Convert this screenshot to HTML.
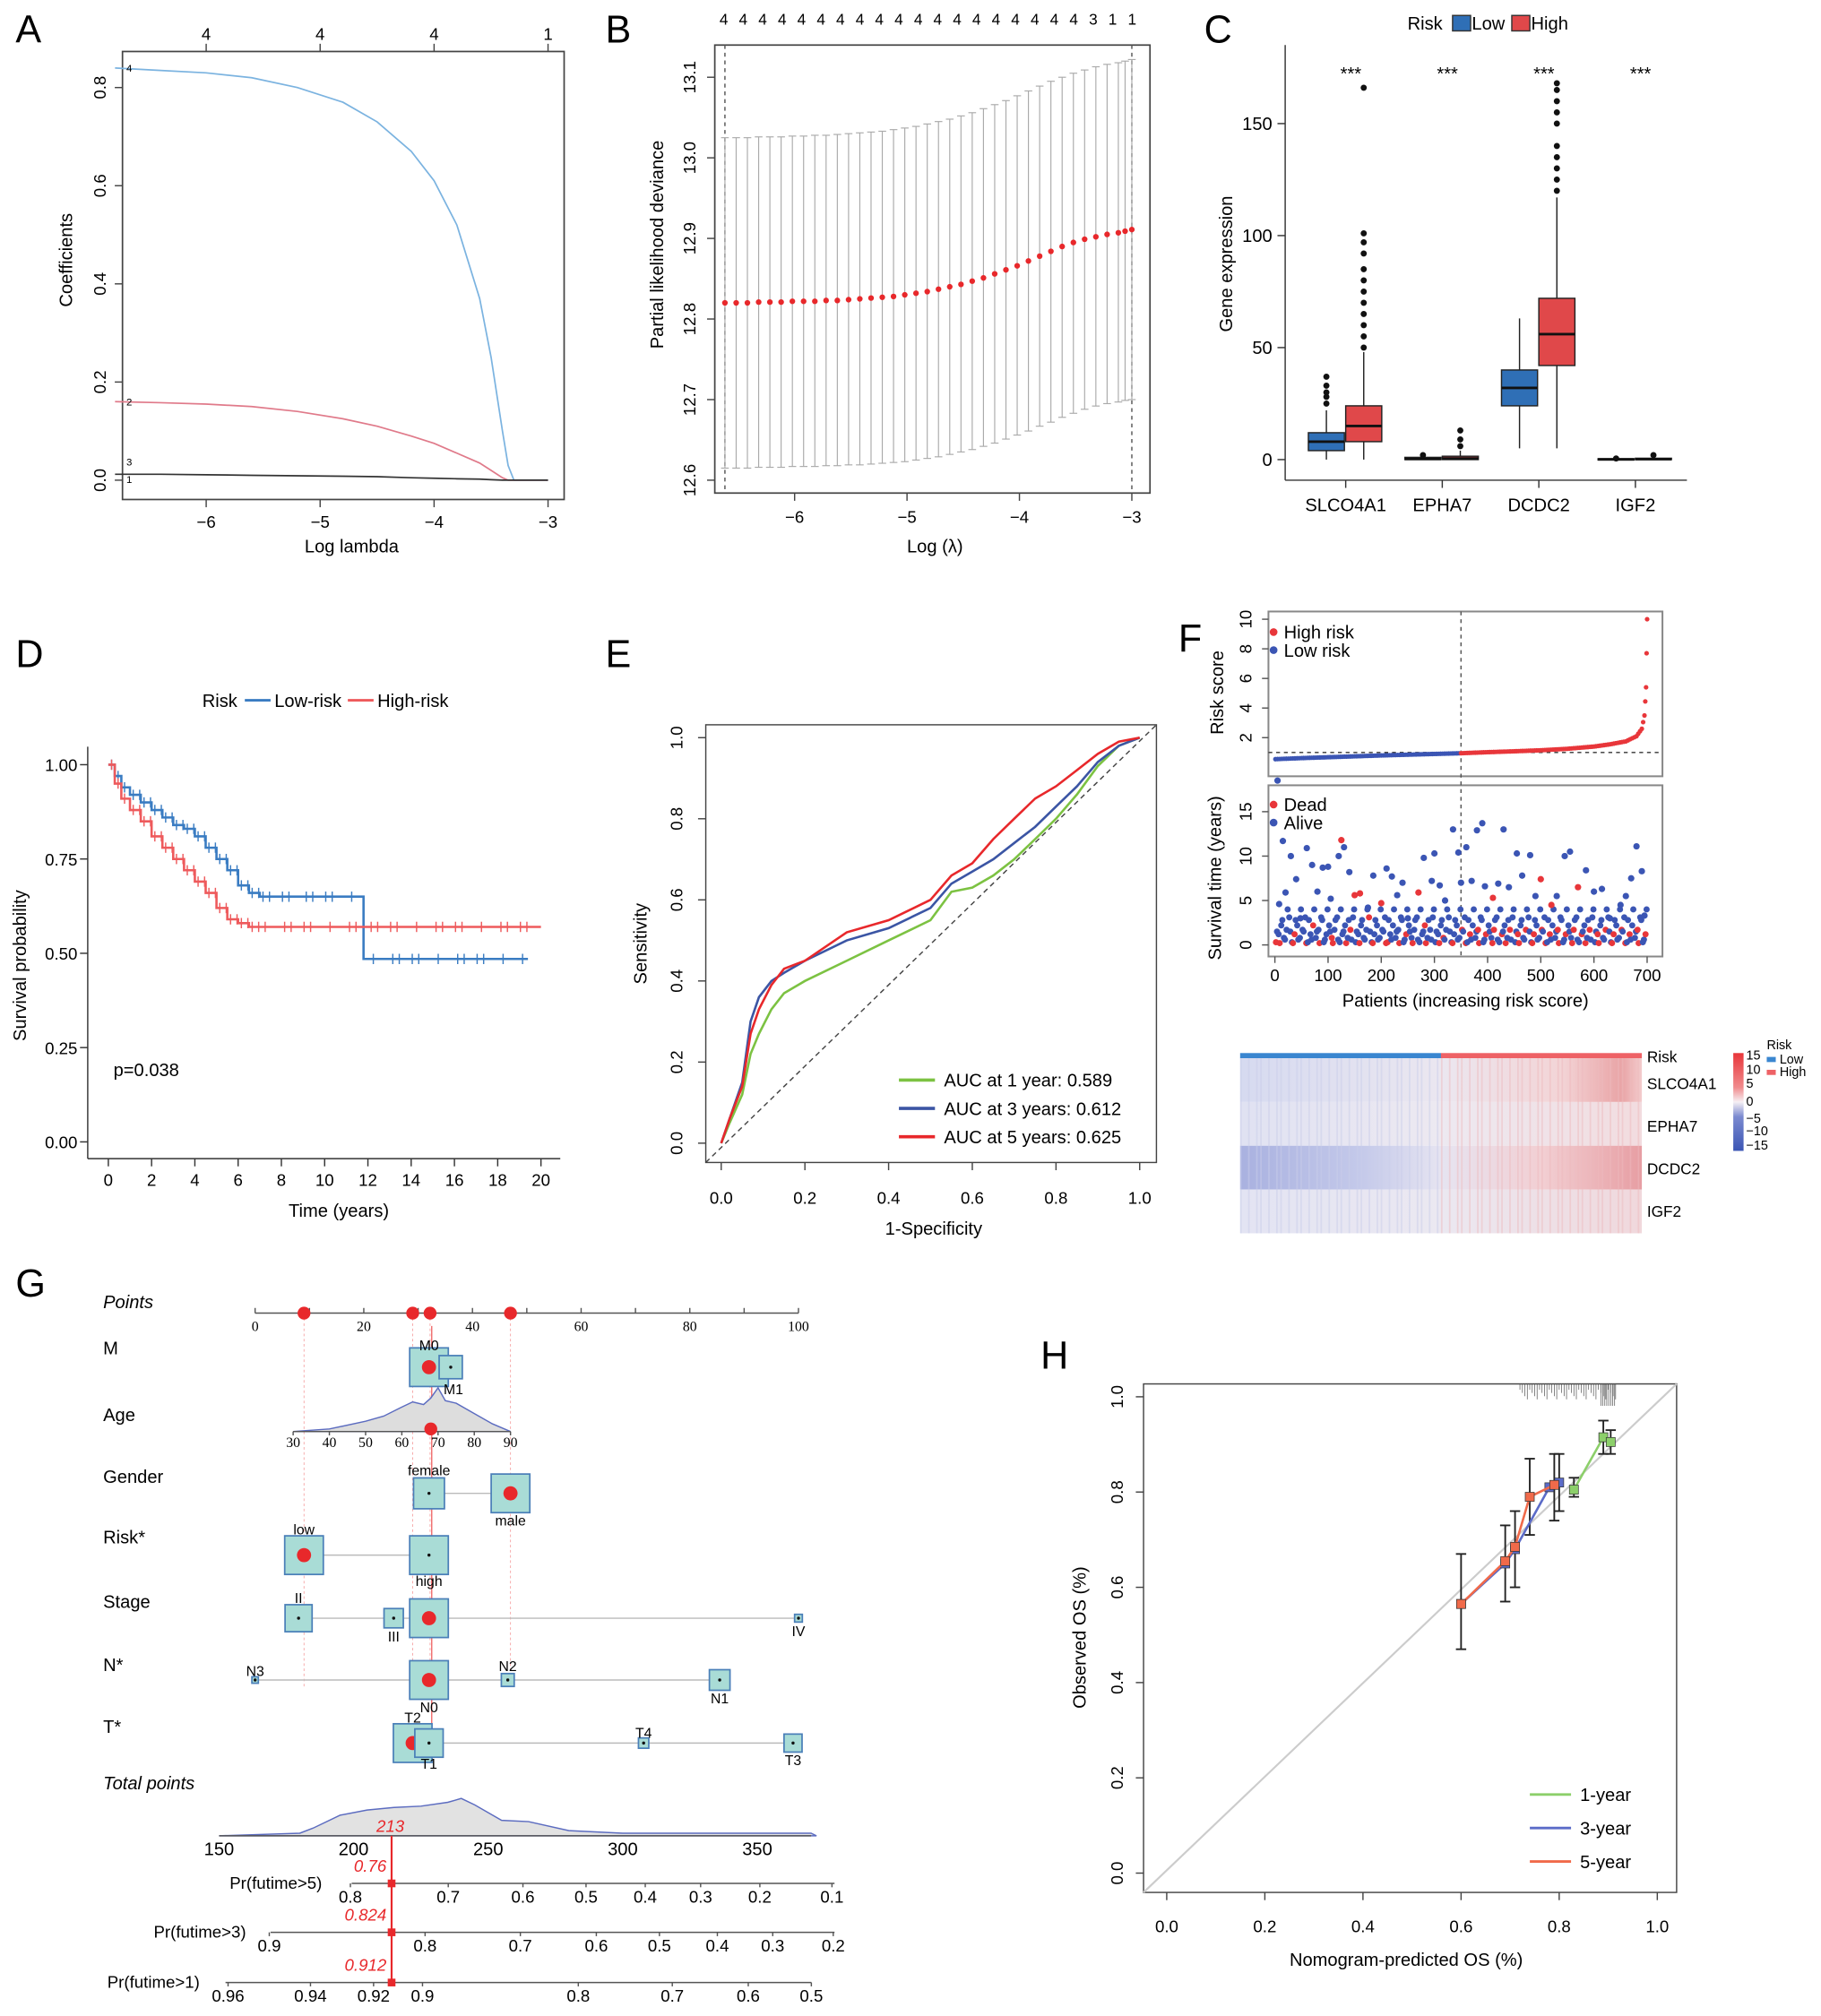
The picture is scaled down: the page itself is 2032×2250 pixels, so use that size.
<!DOCTYPE html>
<html><head><meta charset="utf-8">
<style>
html,body{margin:0;padding:0;background:#fff;}
svg{display:block;font-family:"Liberation Sans",Arial,sans-serif;}
</style></head>
<body>
<svg id="fig" width="2032" height="2250" viewBox="0 0 1414 1566" xmlns="http://www.w3.org/2000/svg">
<g id="static">
<text x="12" y="33" font-size="30">A</text>
<text x="470" y="33" font-size="30">B</text>
<text x="935" y="33" font-size="30">C</text>
<text x="12" y="518" font-size="30">D</text>
<text x="470" y="518" font-size="30">E</text>
<text x="915" y="506" font-size="30">F</text>
<text x="12" y="1007" font-size="30">G</text>
<text x="808" y="1063" font-size="30">H</text>
</g>
</svg>
<script>
// ---------------- DATA ----------------
const aLambda=[-6.8,-6.4,-6.0,-5.6,-5.2,-4.8,-4.5,-4.2,-4.0,-3.8,-3.6,-3.5,-3.4,-3.35,-3.3,-3.0];
const aBlue=[0.84,0.835,0.83,0.82,0.80,0.77,0.73,0.67,0.61,0.52,0.37,0.25,0.10,0.03,0.0,0.0];
const aRed=[0.16,0.158,0.155,0.15,0.14,0.125,0.11,0.09,0.075,0.055,0.035,0.02,0.005,0.0,0.0,0.0];
const aBlack=[0.012,0.012,0.011,0.010,0.009,0.008,0.007,0.005,0.004,0.003,0.002,0.001,0,0,0,0];
const aTopTicks=["4","4","4","1"];
const bLambda=[-6.62,-6.52,-6.42,-6.32,-6.22,-6.12,-6.02,-5.92,-5.82,-5.72,-5.62,-5.52,-5.42,-5.32,-5.22,-5.12,-5.02,-4.92,-4.82,-4.72,-4.62,-4.52,-4.42,-4.32,-4.22,-4.12,-4.02,-3.92,-3.82,-3.72,-3.62,-3.52,-3.42,-3.32,-3.22,-3.12,-3.06,-3.0];
const bMean=[12.820,12.820,12.820,12.821,12.821,12.821,12.822,12.822,12.822,12.823,12.823,12.824,12.825,12.826,12.827,12.828,12.830,12.832,12.834,12.837,12.840,12.843,12.847,12.851,12.856,12.861,12.866,12.872,12.878,12.884,12.890,12.895,12.899,12.902,12.905,12.907,12.909,12.911];
const bUpper=[13.025,13.025,13.025,13.026,13.026,13.026,13.027,13.027,13.028,13.028,13.029,13.030,13.031,13.032,13.033,13.035,13.037,13.039,13.042,13.045,13.048,13.052,13.056,13.061,13.066,13.071,13.077,13.083,13.089,13.095,13.100,13.105,13.109,13.113,13.116,13.118,13.120,13.122];
const bLower=[12.615,12.615,12.615,12.616,12.616,12.616,12.617,12.617,12.617,12.618,12.618,12.619,12.619,12.620,12.621,12.622,12.623,12.625,12.627,12.629,12.632,12.635,12.638,12.642,12.646,12.651,12.656,12.661,12.667,12.672,12.678,12.683,12.688,12.692,12.695,12.697,12.699,12.700];
const bTopTicks=["4","4","4","4","4","4","4","4","4","4","4","4","4","4","4","4","4","4","4","3","1","1"];
const cGenes=["SLCO4A1","EPHA7","DCDC2","IGF2"];
const cLow=[[4,8,12,0,22],[0,0.3,1,0,2],[24,32,40,5,63],[0,0.1,0.4,0,1]];
const cHigh=[[8,15,24,0,48],[0,0.5,1.5,0,4],[42,56,72,5,117],[0,0.2,0.6,0,1.5]];
const cOutLow=[[25,28,30,33,37],[2],[],[0.5]];
const cOutHigh=[[50,55,60,65,70,75,80,85,92,97,101,166],[6,9,13],[120,125,130,135,140,150,155,160,165,168],[2]];
const dLowT=[0,0.3,0.6,1,1.5,2,2.5,3,3.5,4,4.5,5,5.5,6,6.5,7,9,11.8,11.8,19.4];
const dLowS=[1,0.97,0.94,0.92,0.90,0.88,0.86,0.84,0.83,0.81,0.78,0.75,0.72,0.68,0.66,0.65,0.65,0.65,0.485,0.485];
const dHighT=[0,0.3,0.6,1,1.5,2,2.5,3,3.5,4,4.5,5,5.5,6,6.5,8,12,20];
const dHighS=[1,0.95,0.91,0.88,0.85,0.81,0.78,0.75,0.72,0.69,0.66,0.62,0.59,0.58,0.57,0.57,0.57,0.57];
const eFpr=[0,0.02,0.05,0.07,0.09,0.12,0.15,0.2,0.3,0.4,0.5,0.55,0.6,0.65,0.7,0.75,0.8,0.85,0.9,0.95,1];
const e1y=[0,0.05,0.12,0.22,0.27,0.33,0.37,0.40,0.45,0.50,0.55,0.62,0.63,0.66,0.70,0.75,0.80,0.86,0.93,0.98,1];
const e3y=[0,0.06,0.15,0.30,0.36,0.40,0.42,0.45,0.50,0.53,0.58,0.64,0.67,0.70,0.74,0.78,0.83,0.88,0.94,0.98,1];
const e5y=[0,0.06,0.14,0.27,0.33,0.39,0.43,0.45,0.52,0.55,0.60,0.66,0.69,0.75,0.80,0.85,0.88,0.92,0.96,0.99,1];
const eLabels=["AUC at 1 year: 0.589","AUC at 3 years: 0.612","AUC at 5 years: 0.625"];
const fRank=[1,50,100,150,200,250,300,350,400,450,500,550,600,630,660,680,690,695,698,700];
const fScore=[0.55,0.62,0.68,0.74,0.8,0.85,0.9,0.95,1.02,1.08,1.15,1.25,1.4,1.55,1.75,2.1,2.6,3.5,5.4,10];
const fSurvRank=[5,8,15,20,30,40,48,60,70,80,90,100,105,120,125,130,140,150,160,175,185,200,210,220,230,240,250,270,280,295,300,310,320,335,345,350,360,370,380,390,395,410,420,430,440,455,465,480,490,500,520,530,545,555,570,585,600,615,630,650,660,670,680,690,695];
const fSurvTime=[18.5,4.6,11.7,5.9,10,7.4,3,10.9,9,6,8.7,8.8,5.2,10,11.8,11,8.2,5.6,5.8,4.2,7.8,4.7,8.6,7.7,5.6,7,3,5.9,9.8,7.2,10.3,6.7,5,13,10.4,7,11,7.2,12.9,13.7,6.6,5.3,6.9,13,6.5,10.3,7.8,10.1,5.5,7.4,4.5,5.5,10,10.5,6.5,8.4,6,6.3,3,4.5,5.5,7.5,11.1,8.3,3.3];
const fSurvDead=[0,0,0,0,0,0,0,0,0,0,0,0,0,0,1,0,0,1,1,0,0,1,0,0,0,0,0,1,0,0,0,0,0,0,0,0,0,0,0,0,0,1,0,0,0,0,0,0,0,1,1,0,0,0,1,0,0,0,0,0,0,0,0,0,0];
const hPred1=[0.83,0.89,0.905];const hObs1=[0.805,0.915,0.905];
const hPred3=[0.60,0.69,0.71,0.78,0.80];const hObs3=[0.565,0.65,0.68,0.81,0.82];
const hPred5=[0.60,0.69,0.71,0.74,0.79];const hObs5=[0.565,0.655,0.685,0.79,0.815];
const hErrPred=[0.60,0.69,0.71,0.74,0.79,0.80,0.83,0.89,0.905];
const hErrLo=[0.47,0.57,0.60,0.71,0.74,0.76,0.79,0.88,0.88];
const hErrHi=[0.67,0.73,0.76,0.87,0.88,0.88,0.83,0.95,0.93];

const NS="http://www.w3.org/2000/svg";
const svg=document.getElementById('fig');
function mk(tag,attrs,parent){const e=document.createElementNS(NS,tag);for(const k in attrs)e.setAttribute(k,attrs[k]);(parent||svg).appendChild(e);return e;}
function txt(x,y,s,size,attrs,parent){const a=Object.assign({x:x,y:y,'font-size':size},attrs||{});const e=mk('text',a,parent);e.textContent=s;return e;}
function grp(name){const g=mk('g',{});return g;}
function poly(pts){return pts.map(p=>p[0].toFixed(1)+','+p[1].toFixed(1)).join(' ');}

// A
(function(){
const g=grp('panel-a-lasso-paths');
const X=v=>160+(v+6)*88.5, Y=v=>373-v*381.25;
mk('rect',{x:95,y:40,width:343,height:348,fill:'none',stroke:'#444','stroke-width':1.2},g);
[-6,-5,-4,-3].forEach(v=>{mk('line',{x1:X(v),y1:388,x2:X(v),y2:394,stroke:'#444'},g);txt(X(v),410,String(v).replace('-','−'),13,{'text-anchor':'middle'},g);});
[0,0.2,0.4,0.6,0.8].forEach(v=>{mk('line',{x1:89,y1:Y(v),x2:95,y2:Y(v),stroke:'#444'},g);txt(82,Y(v),v.toFixed(1),13,{'text-anchor':'middle',transform:`rotate(-90 82 ${Y(v)})`},g);});
[-6,-5,-4,-3].forEach((v,i)=>{mk('line',{x1:X(v),y1:40,x2:X(v),y2:34,stroke:'#444'},g);txt(X(v),31,aTopTicks[i],13,{'text-anchor':'middle'},g);});
txt(273,429,'Log lambda',14,{'text-anchor':'middle'},g);
txt(56,202,'Coefficients',14,{'text-anchor':'middle',transform:'rotate(-90 56 202)'},g);
[[aBlue,'#7bb3e0','series-a-blue'],[aRed,'#e07a8a','series-a-red'],[aBlack,'#333','series-a-black']].forEach(s=>{
 const l=mk('polyline',{points:poly(aLambda.map((v,i)=>[X(v),Y(s[0][i])])),fill:'none',stroke:s[1],'stroke-width':1.2},g);
 });
txt(98,Y(aBlue[0])+3,'4',8,{},g);txt(98,Y(aRed[0])+3,'2',8,{},g);txt(98,Y(0.03),'3',8,{},g);txt(98,Y(0)+2,'1',8,{},g);
})();

// B
(function(){
const g=grp('panel-b-cv-deviance');
const X=v=>617+(v+6)*87.3, Y=v=>373-(v-12.6)*626;
mk('rect',{x:555,y:35,width:338,height:348,fill:'none',stroke:'#444','stroke-width':1.2},g);
[-6,-5,-4,-3].forEach(v=>{mk('line',{x1:X(v),y1:383,x2:X(v),y2:389,stroke:'#444'},g);txt(X(v),406,String(v).replace('-','−'),13,{'text-anchor':'middle'},g);});
[12.6,12.7,12.8,12.9,13.0,13.1].forEach(v=>{mk('line',{x1:549,y1:Y(v),x2:555,y2:Y(v),stroke:'#444'},g);txt(540,Y(v),v.toFixed(1),13,{'text-anchor':'middle',transform:`rotate(-90 540 ${Y(v)})`},g);});
bTopTicks.forEach((t,i)=>txt(562+i*15.1,19,t,12,{'text-anchor':'middle'},g));
txt(726,429,'Log (λ)',14,{'text-anchor':'middle'},g);
txt(515,190,'Partial likelihood deviance',14,{'text-anchor':'middle',transform:'rotate(-90 515 190)'},g);
mk('line',{x1:X(-6.62),y1:35,x2:X(-6.62),y2:383,stroke:'#555','stroke-dasharray':'3,3'},g);
mk('line',{x1:X(-3),y1:35,x2:X(-3),y2:383,stroke:'#555','stroke-dasharray':'3,3'},g);
bLambda.forEach((v,i)=>{
 const x=X(v);
 mk('line',{x1:x,y1:Y(bUpper[i]),x2:x,y2:Y(bLower[i]),stroke:'#aaa','stroke-width':0.8},g);
 mk('line',{x1:x-3,y1:Y(bUpper[i]),x2:x+3,y2:Y(bUpper[i]),stroke:'#aaa','stroke-width':0.8},g);
 mk('line',{x1:x-3,y1:Y(bLower[i]),x2:x+3,y2:Y(bLower[i]),stroke:'#aaa','stroke-width':0.8},g);
 const c=mk('circle',{cx:x,cy:Y(bMean[i]),r:2.2,fill:'#e8282b'},g);
 
});
})();

// C
(function(){
const g=grp('panel-c-boxplot');
const Y=v=>357-v*1.74;
mk('line',{x1:998,y1:35,x2:998,y2:373,stroke:'#333'},g);
mk('line',{x1:998,y1:373,x2:1310,y2:373,stroke:'#333'},g);
[0,50,100,150].forEach(v=>{mk('line',{x1:992,y1:Y(v),x2:998,y2:Y(v),stroke:'#333'},g);txt(988,Y(v)+5,String(v),14,{'text-anchor':'end'},g);});
txt(957,205,'Gene expression',14,{'text-anchor':'middle',transform:'rotate(-90 957 205)'},g);
txt(1093,23,'Risk',14,{},g);
mk('rect',{x:1128,y:12,width:14,height:12,fill:'#2f6fb6',stroke:'#333'},g);txt(1143,23,'Low',14,{},g);
mk('rect',{x:1174,y:12,width:14,height:12,fill:'#e0484a',stroke:'#333'},g);txt(1189,23,'High',14,{},g);
cGenes.forEach((gn,i)=>{
 const cx=1045+i*75;
 mk('line',{x1:cx,y1:373,x2:cx,y2:379,stroke:'#333'},g);
 txt(cx,397,gn,14,{'text-anchor':'middle'},g);
 txt(cx+4,62,'***',14,{'text-anchor':'middle'},g);
 [[cLow[i],cOutLow[i],cx-15,'#2f6fb6','box-low'],[cHigh[i],cOutHigh[i],cx+14,'#e0484a','box-high']].forEach(b=>{
  const d=b[0],x=b[2];
  mk('line',{x1:x,y1:Y(d[3]),x2:x,y2:Y(d[4]),stroke:'#222'},g);
  const r=mk('rect',{x:x-14,y:Y(d[2]),width:28,height:Math.max(Y(d[0])-Y(d[2]),1),fill:b[3],stroke:'#222'},g);
  
  mk('line',{x1:x-14,y1:Y(d[1]),x2:x+14,y2:Y(d[1]),stroke:'#111','stroke-width':2},g);
  b[1].forEach(o=>mk('circle',{cx:x,cy:Y(o),r:2.4,fill:'#111'},g));
 });
});
})();

// D
(function(){
const g=grp('panel-d-km');
const X=v=>84+v*16.8, Y=v=>887-v*293;
mk('line',{x1:68,y1:580,x2:68,y2:900,stroke:'#333'},g);
mk('line',{x1:68,y1:900,x2:435,y2:900,stroke:'#333'},g);
[0,2,4,6,8,10,12,14,16,18,20].forEach(v=>{mk('line',{x1:X(v),y1:900,x2:X(v),y2:906,stroke:'#333'},g);txt(X(v),921,String(v),13,{'text-anchor':'middle'},g);});
[0,0.25,0.5,0.75,1].forEach(v=>{mk('line',{x1:62,y1:Y(v),x2:68,y2:Y(v),stroke:'#333'},g);txt(60,Y(v)+5,v.toFixed(2),13,{'text-anchor':'end'},g);});
txt(263,945,'Time (years)',14,{'text-anchor':'middle'},g);
txt(20,750,'Survival probability',14,{'text-anchor':'middle',transform:'rotate(-90 20 750)'},g);
txt(88,836,'p=0.038',14,{},g);
txt(157,549,'Risk',14,{},g);
mk('line',{x1:190,y1:544,x2:210,y2:544,stroke:'#3a7cc2','stroke-width':2},g);txt(213,549,'Low-risk',14,{},g);
mk('line',{x1:270,y1:544,x2:290,y2:544,stroke:'#ee5a5c','stroke-width':2},g);txt(293,549,'High-risk',14,{},g);
function km(T,S,col,name){
 let pts=[];for(let i=0;i<T.length;i++){if(i>0)pts.push([X(T[i]),Y(S[i-1])]);pts.push([X(T[i]),Y(S[i])]);}
 const l=mk('polyline',{points:poly(pts),fill:'none',stroke:col,'stroke-width':1.8},g);
 
 for(let i=1;i<T.length;i++){for(let t=T[i-1]+0.15;t<T[i];t+=0.3){if(t>7&&Math.abs(t%1)>0.5)continue;mk('line',{x1:X(t),y1:Y(S[i-1])-4,x2:X(t),y2:Y(S[i-1])+4,stroke:col,'stroke-width':1},g);}}
}
km(dLowT,dLowS,'#3a7cc2','km-low-risk');
km(dHighT,dHighS,'#ee5a5c','km-high-risk');
})();

// E
(function(){
const g=grp('panel-e-roc');
const X=v=>560+v*325, Y=v=>888-v*315;
mk('rect',{x:548,y:563,width:350,height:340,fill:'none',stroke:'#444'},g);
[0,0.2,0.4,0.6,0.8,1].forEach(v=>{mk('line',{x1:X(v),y1:903,x2:X(v),y2:909,stroke:'#444'},g);txt(X(v),935,v.toFixed(1),13,{'text-anchor':'middle'},g);
 mk('line',{x1:542,y1:Y(v),x2:548,y2:Y(v),stroke:'#444'},g);txt(530,Y(v),v.toFixed(1),13,{'text-anchor':'middle',transform:`rotate(-90 530 ${Y(v)})`},g);});
txt(725,959,'1-Specificity',14,{'text-anchor':'middle'},g);
txt(502,733,'Sensitivity',14,{'text-anchor':'middle',transform:'rotate(-90 502 733)'},g);
mk('line',{x1:548,y1:903,x2:898,y2:563,stroke:'#444','stroke-dasharray':'4,3'},g);
[[e1y,'#7cc242','roc-1-year'],[e3y,'#3b55a4','roc-3-years'],[e5y,'#e8282b','roc-5-years']].forEach((s,i)=>{
 const l=mk('polyline',{points:poly(eFpr.map((v,j)=>[X(v),Y(s[0][j])])),fill:'none',stroke:s[1],'stroke-width':1.8},g);
 
 mk('line',{x1:698,y1:839+i*22,x2:726,y2:839+i*22,stroke:s[1],'stroke-width':2.5},g);
 txt(733,844+i*22,eLabels[i],14,{},g);
});
})();

// F
(function(){
const g=grp('panel-f-risk');
const X=v=>990+v*0.413;
const Y1=v=>596-v*11.5, Y2=v=>734-v*6.9;
mk('rect',{x:985,y:475,width:306,height:128,fill:'none',stroke:'#888','stroke-width':1.4},g);
mk('rect',{x:985,y:610,width:306,height:133,fill:'none',stroke:'#888','stroke-width':1.4},g);
[2,4,6,8,10].forEach(v=>{mk('line',{x1:980,y1:Y1(v),x2:985,y2:Y1(v),stroke:'#555'},g);txt(972,Y1(v),String(v),13,{'text-anchor':'middle',transform:`rotate(-90 972 ${Y1(v)})`},g);});
[0,5,10,15].forEach(v=>{mk('line',{x1:980,y1:Y2(v),x2:985,y2:Y2(v),stroke:'#555'},g);txt(972,Y2(v),String(v),13,{'text-anchor':'middle',transform:`rotate(-90 972 ${Y2(v)})`},g);});
[0,100,200,300,400,500,600,700].forEach(v=>{mk('line',{x1:X(v),y1:743,x2:X(v),y2:748,stroke:'#555'},g);txt(X(v),762,String(v),13,{'text-anchor':'middle'},g);});
txt(1138,782,'Patients (increasing risk score)',14,{'text-anchor':'middle'},g);
txt(950,538,'Risk score',14,{'text-anchor':'middle',transform:'rotate(-90 950 538)'},g);
txt(948,682,'Survival time (years)',14,{'text-anchor':'middle',transform:'rotate(-90 948 682)'},g);
mk('line',{x1:985,y1:Y1(1),x2:1291,y2:Y1(1),stroke:'#333','stroke-dasharray':'3,3'},g);
mk('line',{x1:X(350),y1:475,x2:X(350),y2:743,stroke:'#555','stroke-dasharray':'3,3'},g);
for(let k=0;k<fRank.length-1;k++){const n=Math.max(2,Math.round((fRank[k+1]-fRank[k])/4));
 for(let j=0;j<n;j++){const t=j/n;const r=fRank[k]+(fRank[k+1]-fRank[k])*t;const s=fScore[k]+(fScore[k+1]-fScore[k])*t;
  mk('circle',{cx:X(r),cy:Y1(s),r:1.8,fill:r<350?'#3b55b4':'#e8363a'},g);}}
mk('circle',{cx:X(700),cy:Y1(10),r:1.8,fill:'#e8363a'},g);
for(let r=2;r<700;r+=5){const tt=[0.3,1.2,2.2,0.8,1.7,3.1][(r/5|0)%6];
 mk('circle',{cx:X(r),cy:Y2(tt),r:2.4,fill:(r%35===2&&r<350)||(r%15===7&&r>=350)?'#e8363a':'#3b55b4'},g);
 mk('circle',{cx:X(r+2),cy:Y2([1.5,0.2,2.8,0.6,4][(r/5|0)%5]),r:2.4,fill:(r%25===7)?'#e8363a':'#3b55b4'},g);}
fSurvRank.forEach((r,i)=>{const c=mk('circle',{cx:X(r),cy:Y2(fSurvTime[i]),r:2.5,fill:fSurvDead[i]?'#e8363a':'#3b55b4'},g);
 });
mk('circle',{cx:989,cy:491,r:3,fill:'#e8363a'},g);txt(997,496,'High risk',14,{},g);
mk('circle',{cx:989,cy:505,r:3,fill:'#3b55b4'},g);txt(997,510,'Low risk',14,{},g);
mk('circle',{cx:989,cy:625,r:3,fill:'#e8363a'},g);txt(997,630,'Dead',14,{},g);
mk('circle',{cx:989,cy:639,r:3,fill:'#3b55b4'},g);txt(997,644,'Alive',14,{},g);
const defs=mk('defs',{},g);
function grad(id,stops){const lg=mk('linearGradient',{id:id,x1:0,y1:0,x2:1,y2:0},defs);stops.forEach(s=>mk('stop',{offset:s[0],'stop-color':s[1]},lg));}
grad('hg1',[[0,'#d6daf0'],[0.5,'#ebe7f0'],[0.8,'#f3d4d6'],[0.95,'#e9a4a6'],[1,'#f3cccd']]);
grad('hg2',[[0,'#e0e2f2'],[0.5,'#ede9f1'],[1,'#f2dcdf']]);
grad('hg3',[[0,'#a9b1e0'],[0.3,'#c4c9ea'],[0.5,'#e6e4f1'],[0.75,'#f2cfd3'],[1,'#e79ea3']]);
grad('hg4',[[0,'#e3e4f3'],[0.5,'#ebe8f1'],[1,'#f0d8dc']]);
mk('rect',{x:963,y:818,width:156,height:4,fill:'#3a86d0'},g);
mk('rect',{x:1119,y:818,width:156,height:4,fill:'#ee6266'},g);
['hg1','hg2','hg3','hg4'].forEach((id,i)=>{const r=mk('rect',{x:963,y:822+i*34,width:312,height:34,fill:`url(#${id})`},g);
 });
for(let i=0;i<60;i++){const x=963+i*5.2+((i*7)%3);mk('rect',{x:x,y:822,width:1.2,height:136,fill:i<30?'#c9cde9':'#eeb9bd',opacity:0.5},g);}
txt(1279,825,'Risk',12,{},g);
['SLCO4A1','EPHA7','DCDC2','IGF2'].forEach((s,i)=>txt(1279,846+i*33,s,12,{},g));
const cg=mk('linearGradient',{id:'cbar',x1:0,y1:0,x2:0,y2:1},defs);
[[0,'#e8363a'],[0.35,'#f08a8c'],[0.5,'#f6f0f4'],[0.65,'#7b8ad0'],[1,'#3b55b4']].forEach(s=>mk('stop',{offset:s[0],'stop-color':s[1]},cg));
mk('rect',{x:1346,y:818,width:8,height:76,fill:'url(#cbar)'},g);
[['15',823],['10',834],['5',845],['0',859],['−5',872],['−10',882],['−15',893]].forEach(t=>txt(1356,t[1],t[0],10,{},g));
txt(1372,815,'Risk',10,{},g);
mk('rect',{x:1372,y:821,width:7,height:4,fill:'#3a86d0'},g);txt(1382,826,'Low',10,{},g);
mk('rect',{x:1372,y:831,width:7,height:4,fill:'#ee6266'},g);txt(1382,836,'High',10,{},g);
})();

// G
(function(){
const g=grp('panel-g-nomogram');
const P=v=>198+v*4.22;
const lab=(y,s,it)=>txt(80,y,s,14,it?{'font-style':'italic'}:{},g);
lab(1016,'Points',1);lab(1052,'M');lab(1104,'Age');lab(1152,'Gender');lab(1199,'Risk*');lab(1249,'Stage');lab(1298,'N*');lab(1346,'T*');lab(1390,'Total points',1);
mk('line',{x1:P(0),y1:1020,x2:P(100),y2:1020,stroke:'#555'},g);
for(let v=0;v<=100;v+=10){mk('line',{x1:P(v),y1:1020,x2:P(v),y2:1016,stroke:'#555'},g);if(v%20===0)txt(P(v),1034,String(v),11,{'text-anchor':'middle','font-family':'Liberation Serif, serif'},g);}
[9,29,32.2,47].forEach(v=>{mk('line',{x1:P(v),y1:1020,x2:P(v),y2:1310,stroke:'#f5a0a0','stroke-width':0.6,'stroke-dasharray':'2,2'},g);mk('circle',{cx:P(v),cy:1020,r:5,fill:'#e8282b'},g);});
mk('line',{x1:P(32.5),y1:1030,x2:P(32.5),y2:1360,stroke:'#f07070','stroke-width':1},g);
const box=(x,y,s,dot,name)=>{const r=mk('rect',{x:x-s/2,y:y-s/2,width:s,height:s,fill:'#a9dcd6',stroke:'#4a7fb8','stroke-width':1.2},g);
 if(dot)mk('circle',{cx:x,cy:y,r:5.5,fill:'#e8282b'},g);else mk('circle',{cx:x,cy:y,r:1.2,fill:'#111'},g);};
box(P(32),1062,30,1,'box-m0');box(P(36),1062,18,0,'box-m1');txt(P(32),1049,'M0',11,{'text-anchor':'middle'},g);txt(P(36.5),1083,'M1',11,{'text-anchor':'middle'},g);
const A=a=>P(7)+(a-30)*(P(47)-P(7))/60;
mk('path',{d:`M${A(30)},1112 L${A(40)},1110 L${A(50)},1104 L${A(55)},1100 L${A(60)},1093 L${A(63)},1089 L${A(66)},1091 L${A(68)},1086 L${A(70)},1078 L${A(72)},1088 L${A(75)},1090 L${A(80)},1098 L${A(85)},1106 L${A(90)},1112 Z`,fill:'#ddd',stroke:'#5c6cc0'},g);
mk('line',{x1:A(30),y1:1112,x2:A(90),y2:1112,stroke:'#555'},g);
[30,40,50,60,70,80,90].forEach(a=>{mk('line',{x1:A(a),y1:1112,x2:A(a),y2:1115,stroke:'#555'},g);txt(A(a),1124,String(a),11,{'text-anchor':'middle','font-family':'Liberation Serif, serif'},g);});
mk('circle',{cx:A(68),cy:1110,r:5,fill:'#e8282b'},g);
mk('line',{x1:P(32),y1:1160,x2:P(47),y2:1160,stroke:'#bbb'},g);
box(P(32),1160,24,0,'box-female');box(P(47),1160,30,1,'box-male');txt(P(32),1146,'female',11,{'text-anchor':'middle'},g);txt(P(47),1185,'male',11,{'text-anchor':'middle'},g);
mk('line',{x1:P(9),y1:1208,x2:P(32),y2:1208,stroke:'#bbb'},g);
box(P(9),1208,30,1,'box-risk-low');box(P(32),1208,30,0,'box-risk-high');txt(P(9),1192,'low',11,{'text-anchor':'middle'},g);txt(P(32),1232,'high',11,{'text-anchor':'middle'},g);
mk('line',{x1:P(8),y1:1257,x2:P(100),y2:1257,stroke:'#bbb'},g);
box(P(8),1257,21,0,'box-stage-ii');box(P(25.5),1257,15,0,'box-stage-iii');box(P(32),1257,30,1,'box-stage-i');box(P(100),1257,6,0,'box-stage-iv');
txt(P(8),1245,'II',11,{'text-anchor':'middle'},g);txt(P(25.5),1275,'III',11,{'text-anchor':'middle'},g);txt(P(100),1271,'IV',11,{'text-anchor':'middle'},g);
mk('line',{x1:P(0),y1:1305,x2:P(86),y2:1305,stroke:'#bbb'},g);
box(P(0),1305,5,0,'box-n3');box(P(32),1305,30,1,'box-n0');box(P(46.5),1305,10,0,'box-n2');box(P(85.5),1305,16,0,'box-n1');
txt(P(0),1302,'N3',11,{'text-anchor':'middle'},g);txt(P(32),1330,'N0',11,{'text-anchor':'middle'},g);txt(P(46.5),1298,'N2',11,{'text-anchor':'middle'},g);txt(P(85.5),1323,'N1',11,{'text-anchor':'middle'},g);
mk('line',{x1:P(32),y1:1354,x2:P(99),y2:1354,stroke:'#bbb'},g);
box(P(29),1354,30,1,'box-t2');box(P(32),1354,22,0,'box-t1');box(P(71.5),1354,8,0,'box-t4');box(P(99),1354,14,0,'box-t3');
txt(P(29),1338,'T2',11,{'text-anchor':'middle'},g);txt(P(32),1374,'T1',11,{'text-anchor':'middle'},g);txt(P(71.5),1350,'T4',11,{'text-anchor':'middle'},g);txt(P(99),1371,'T3',11,{'text-anchor':'middle'},g);
const T=v=>170+(v-150)*2.09;
mk('path',{d:`M${T(150)},1426 L${T(180)},1424 L${T(185)},1420 L${T(195)},1410 L${T(205)},1406 L${T(215)},1404 L${T(225)},1403 L${T(235)},1400 L${T(240)},1397 L${T(245)},1402 L${T(255)},1414 L${T(265)},1415 L${T(280)},1422 L${T(300)},1424 L${T(370)},1424 L${T(372)},1426 Z`,fill:'#e2e2e2',stroke:'#5c6cc0'},g);
mk('line',{x1:T(150),y1:1426,x2:T(370),y2:1426,stroke:'#555'},g);
[150,200,250,300,350].forEach(v=>txt(T(v),1441,String(v),14,{'text-anchor':'middle'},g));
txt(303,1423,'213',13,{'text-anchor':'middle',fill:'#e8282b','font-style':'italic'},g);
mk('line',{x1:304,y1:1426,x2:304,y2:1540,stroke:'#e8282b','stroke-width':1.5},g);
const axis=(y,x0,x1,ticks,name,val,lx)=>{mk('line',{x1:x0,y1:y,x2:x1,y2:y,stroke:'#555'},g);ticks.forEach(t=>{mk('line',{x1:t[1],y1:y,x2:t[1],y2:y+3,stroke:'#555'},g);txt(t[1],y+15,t[0],13,{'text-anchor':'middle'},g);});
 txt(lx,y+4,name,13,{'text-anchor':'end'},g);txt(300,y-9,val,13,{'text-anchor':'end',fill:'#e8282b','font-style':'italic'},g);mk('rect',{x:301,y:y-3,width:6,height:6,fill:'#e8282b'},g);};
axis(1463,273,648,[['0.8',272],['0.7',348],['0.6',406],['0.5',455],['0.4',501],['0.3',544],['0.2',590],['0.1',646]],'Pr(futime>5)','0.76',250);
axis(1501,210,648,[['0.9',209],['0.8',330],['0.7',404],['0.6',463],['0.5',512],['0.4',557],['0.3',600],['0.2',647]],'Pr(futime>3)','0.824',191);
axis(1540,175,630,[['0.96',177],['0.94',241],['0.92',290],['0.9',328],['0.8',449],['0.7',522],['0.6',581],['0.5',630]],'Pr(futime>1)','0.912',155);
})();

// H
(function(){
const g=grp('panel-h-calibration');
const X=v=>906+v*381, Y=v=>1455-v*370;
mk('rect',{x:888,y:1075,width:414,height:395,fill:'none',stroke:'#444'},g);
[0,0.2,0.4,0.6,0.8,1].forEach(v=>{mk('line',{x1:X(v),y1:1470,x2:X(v),y2:1476,stroke:'#444'},g);txt(X(v),1501,v.toFixed(1),13,{'text-anchor':'middle'},g);
 mk('line',{x1:882,y1:Y(v),x2:888,y2:Y(v),stroke:'#444'},g);txt(872,Y(v),v.toFixed(1),13,{'text-anchor':'middle',transform:`rotate(-90 872 ${Y(v)})`},g);});
txt(1092,1527,'Nomogram-predicted OS (%)',14,{'text-anchor':'middle'},g);
txt(843,1272,'Observed OS (%)',14,{'text-anchor':'middle',transform:'rotate(-90 843 1272)'},g);
mk('line',{x1:888,y1:1470,x2:1302,y2:1075,stroke:'#ccc','stroke-width':1.5},g);
for(let k=0;k<40;k++){const v=0.72+k*0.005;mk('line',{x1:X(v),y1:1075,x2:X(v),y2:1077+(k%4+1)*2.5,stroke:'#555','stroke-width':0.5},g);}
for(let k=0;k<8;k++){const v=0.885+k*0.004;mk('line',{x1:X(v),y1:1075,x2:X(v),y2:1092,stroke:'#555','stroke-width':0.5},g);}
hErrPred.forEach((v,i)=>{const x=X(v);mk('line',{x1:x,y1:Y(hErrLo[i]),x2:x,y2:Y(hErrHi[i]),stroke:'#222','stroke-width':1.3},g);
 mk('line',{x1:x-4,y1:Y(hErrLo[i]),x2:x+4,y2:Y(hErrLo[i]),stroke:'#222','stroke-width':1.3},g);mk('line',{x1:x-4,y1:Y(hErrHi[i]),x2:x+4,y2:Y(hErrHi[i]),stroke:'#222','stroke-width':1.3},g);});
[[hPred1,hObs1,'#8ccf6a','calib-1-year'],[hPred3,hObs3,'#5b6bc8','calib-3-year'],[hPred5,hObs5,'#f06a4a','calib-5-year']].forEach((s,i)=>{
 const l=mk('polyline',{points:poly(s[0].map((v,j)=>[X(v),Y(s[1][j])])),fill:'none',stroke:s[2],'stroke-width':1.8},g);
 
 s[0].forEach((v,j)=>mk('rect',{x:X(v)-3.5,y:Y(s[1][j])-3.5,width:7,height:7,fill:s[2],stroke:'#333','stroke-width':0.5},g));
 mk('line',{x1:1188,y1:1394+i*26,x2:1220,y2:1394+i*26,stroke:s[2],'stroke-width':2},g);
 txt(1227,1399+i*26,['1-year','3-year','5-year'][i],14,{},g);
});
})();
</script>
</body></html>
